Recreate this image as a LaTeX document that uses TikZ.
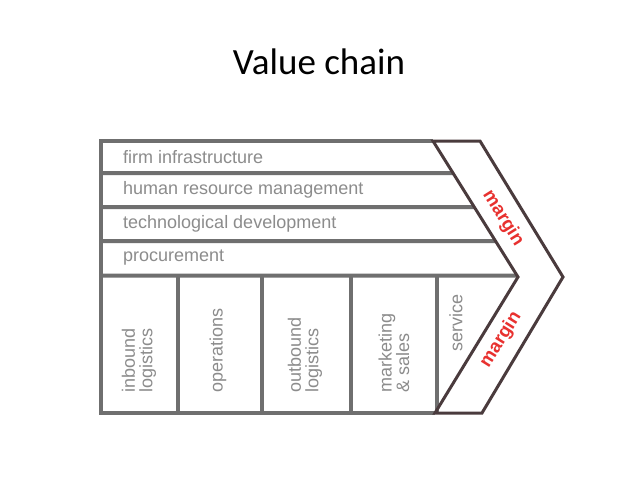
\documentclass[tikz,border=0pt]{standalone}
\usepackage{fontspec}
\setmainfont{Liberation Sans}
\newfontfamily\titlefont{Carlito}
\usetikzlibrary{calc}
\definecolor{gline}{HTML}{6F6F6F}
\definecolor{gtext}{HTML}{8C8C8C}
\definecolor{chev}{HTML}{4A3B3D}
\definecolor{mred}{HTML}{E8312F}
\begin{document}
\begin{tikzpicture}[x=1pt,y=-1pt,
  gridline/.style={draw=gline,line width=4pt},
  chevline/.style={draw=chev,line width=3pt,line join=miter},
  rowlabel/.style={text=gtext,font=\fontsize{18}{18}\selectfont,anchor=west,inner sep=0pt},
  collabel/.style={text=gtext,font=\fontsize{18}{17.5}\selectfont,rotate=90,anchor=west,align=left,inner sep=0pt},
  marginlabel/.style={text=mred,font=\bfseries\fontsize{18.5}{19}\selectfont,inner sep=0pt}]
\useasboundingbox (0,0) rectangle (638,479);
\fill[white] (0,0) rectangle (638,479);
% title
\node (title) at (319,62) {\titlefont\fontsize{37}{40}\selectfont Value chain};
% chevron corners
\coordinate (ctl) at (433,141);
\coordinate (ctr) at (480,141);
\coordinate (cout) at (563,277);
\coordinate (cbr) at (482,413);
\coordinate (cbl) at (435,413);
\coordinate (cin) at (518,277);
% frame corners
\coordinate (ftl) at (101,141);
\coordinate (fbl) at (101,413);
% row line ends
\coordinate (r1l) at (101,173); \coordinate (r1r) at ($(ctl)!{32/136}!(cin)$);
\coordinate (r2l) at (101,207); \coordinate (r2r) at ($(ctl)!{66/136}!(cin)$);
\coordinate (r3l) at (101,241); \coordinate (r3r) at ($(ctl)!{100/136}!(cin)$);
\coordinate (r4l) at (101,275.5); \coordinate (r4r) at ($(ctl)!{134.5/136}!(cin)$);
% grid
\draw[gridline] (ctl) -- (ftl) -- (fbl) -- (cbl);
\draw[gridline] (r1l) -- (r1r);
\draw[gridline] (r2l) -- (r2r);
\draw[gridline] (r3l) -- (r3r);
\draw[gridline] (r4l) -- (r4r);
\foreach \i/\x in {1/178,2/262,3/351,4/437}{
  \coordinate (v\i t) at (\x,276);
  \coordinate (v\i b) at (\x,413);
  \draw[gridline] (v\i t) -- (v\i b);
}
% chevron
\draw[chevline] (ctl) -- (ctr) -- (cout) -- (cbr) -- (cbl) -- (cin) -- cycle;
% row labels
\node[rowlabel] (firm) at (123,157) {firm infrastructure};
\node[rowlabel] (hrm) at (123,190) {human resource management};
\node[rowlabel] (tech) at (123,224) {technological development};
\node[rowlabel] (proc) at (123,258) {procurement};
% column labels
\node[collabel] (inb) at (139,393) {inbound\\logistics};
\node[collabel] (ops) at (218,393) {operations};
\node[collabel] (outb) at (305,393) {outbound\\logistics};
\node[collabel] (mkt) at (394,393) {marketing\\\&\ sales};
\node[collabel] (serv) at (456,352) {service};
% margins
\node[marginlabel,rotate=-58] (m1) at (503,218) {margin};
\node[marginlabel,rotate=58] (m2) at (501,340) {margin};
\end{tikzpicture}
\end{document}
